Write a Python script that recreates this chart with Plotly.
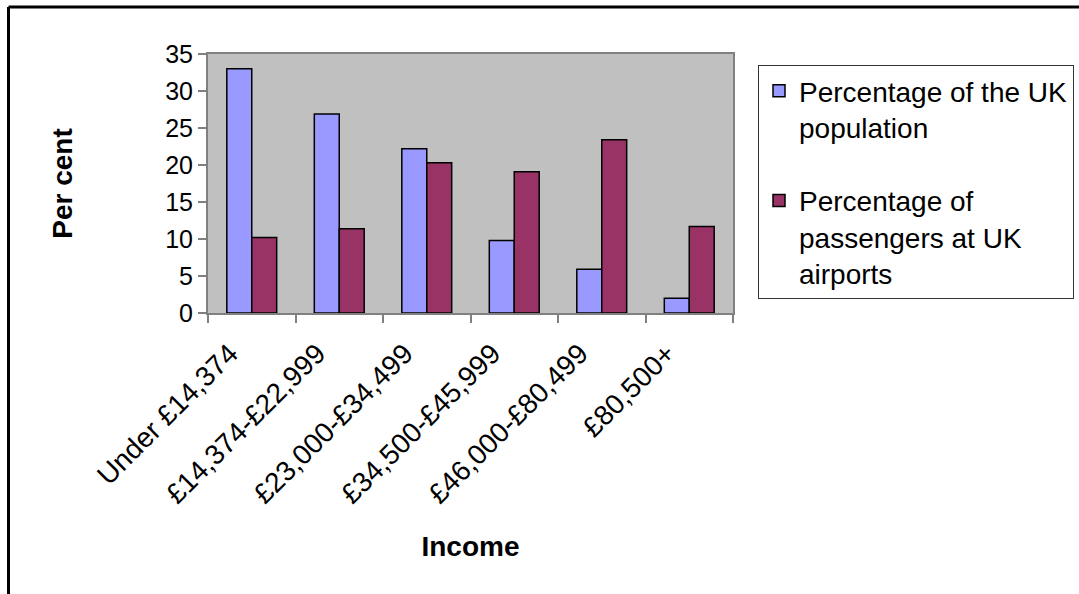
import plotly.graph_objects as go

categories = ["Under £14,374", "£14,374-£22,999", "£23,000-£34,499",
              "£34,500-£45,999", "£46,000-£80,499", "£80,500+"]
uk_population = [33, 26.9, 22.2, 9.8, 5.9, 2.0]
airport_passengers = [10.2, 11.4, 20.3, 19.1, 23.4, 11.7]
series_names = ["Percentage of the UK<br>population",
                "Percentage of<br>passengers at UK<br>airports"]
y_ticks = [0, 5, 10, 15, 20, 25, 30, 35]

FONT = "Liberation Sans, Arial, sans-serif"
W, H = 1079, 594
L, R, T, B = 208, 733, 54, 313  # plot area pixels


def px_x(p):
    return (p - L) / (R - L)


def px_y(p):
    return (B - p) / (B - T)


fig = go.Figure()
fig.add_trace(go.Bar(x=categories, y=uk_population, name=series_names[0],
                     legendgroup="a",
                     marker=dict(color="#9999FF", line=dict(color="black", width=1.5))))
fig.add_trace(go.Bar(x=categories, y=airport_passengers, name=series_names[1],
                     legendgroup="b",
                     marker=dict(color="#993366", line=dict(color="black", width=1.5))))

fig.update_layout(
    width=W, height=H,
    margin=dict(l=L, r=W - R, t=T, b=H - B, autoexpand=False),
    paper_bgcolor="white", plot_bgcolor="#C0C0C0",
    font=dict(family=FONT, color="black", size=24),
    barmode="group", bargap=0.43, bargroupgap=0,
    showlegend=True,
    legend=dict(x=px_x(758), y=px_y(65), xanchor="left", yanchor="top",
                bordercolor="#333333", borderwidth=1, bgcolor="white",
                font=dict(family=FONT, size=28, color="black"),
                valign="top", tracegroupgap=34, traceorder="grouped",
                itemclick=False, itemdoubleclick=False),
    xaxis=dict(type="category", tickson="boundaries", ticks="outside", ticklen=8,
               tickcolor="#808080", tickwidth=1.5,
               tickangle=-45, ticklabelstandoff=11, ticklabelshift=-22,
               tickfont=dict(size=28),
               showline=True, linecolor="#808080", linewidth=2, mirror=True,
               showgrid=False,
               title=dict(text="<b>Income</b>", font=dict(size=28), standoff=28)),
    yaxis=dict(range=[0, 35], tickvals=y_ticks, ticks="outside", ticklen=8,
               tickcolor="#808080", tickwidth=1.5,
               tickfont=dict(size=25),
               showline=True, linecolor="#808080", linewidth=2, mirror=True,
               showgrid=False, zeroline=False,
               title=dict(text="<b>Per cent</b>", font=dict(size=28), standoff=84)),
)

# outer chart border (left and top edges visible)
fig.add_shape(type="line", xref="paper", yref="paper",
              x0=px_x(8.5), x1=px_x(8.5), y0=px_y(600), y1=px_y(7),
              line=dict(color="black", width=3))
fig.add_shape(type="line", xref="paper", yref="paper",
              x0=px_x(8.5), x1=px_x(1085), y0=px_y(7), y1=px_y(7),
              line=dict(color="black", width=3))

fig.write_html("out.html", config={"displayModeBar": False},
               post_script="document.body.style.margin='0px';")
